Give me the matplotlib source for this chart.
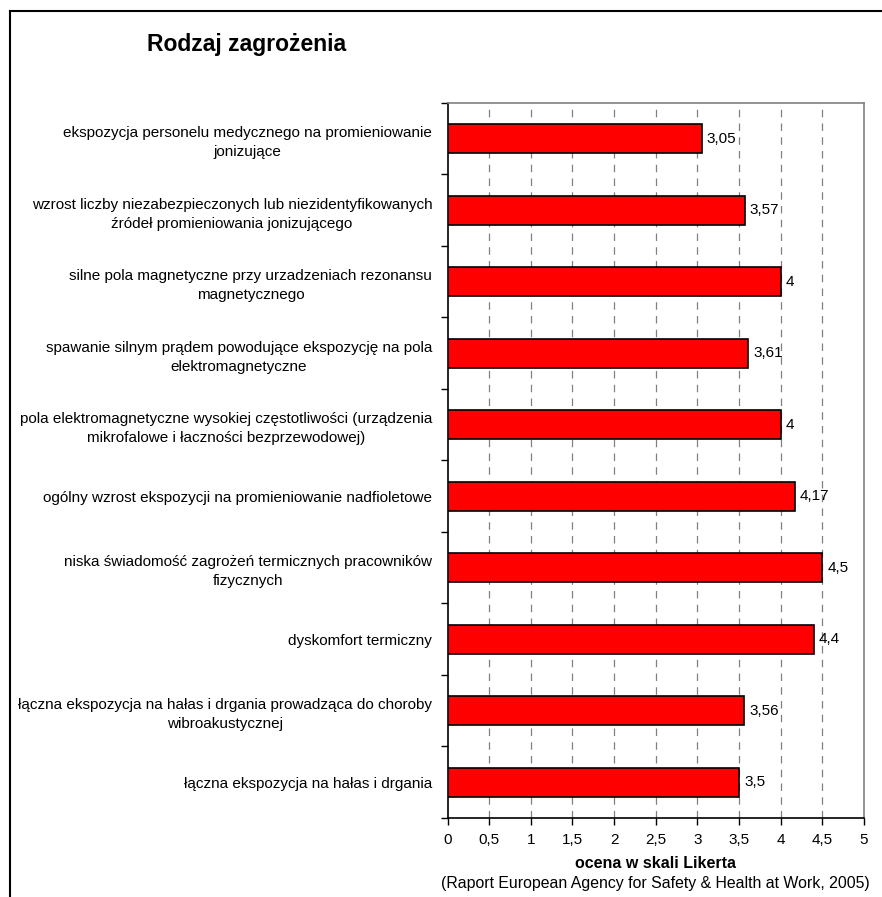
import numpy as np
import matplotlib.pyplot as plt
from matplotlib.lines import Line2D

plt.rcParams['font.family'] = ['Liberation Sans', 'DejaVu Sans']

# kategorie zagrożeń (od góry do dołu) i oceny w skali Likerta
categories = [
    "ekspozycja personelu medycznego na promieniowanie\njonizujące",
    "wzrost liczby niezabezpieczonych lub niezidentyfikowanych\nźródeł promieniowania jonizującego",
    "silne pola magnetyczne przy urzadzeniach rezonansu\nmagnetycznego",
    "spawanie silnym prądem powodujące ekspozycję na pola\nelektromagnetyczne",
    "pola elektromagnetyczne wysokiej częstotliwości (urządzenia\nmikrofalowe i łaczności bezprzewodowej)",
    "ogólny wzrost ekspozycji na promieniowanie nadfioletowe",
    "niska świadomość zagrożeń termicznych pracowników\nfizycznych",
    "dyskomfort termiczny",
    "łączna ekspozycja na hałas i drgania prowadząca do choroby\nwibroakustycznej",
    "łączna ekspozycja na hałas i drgania",
]
scores = [3.05, 3.57, 4, 3.61, 4, 4.17, 4.5, 4.4, 3.56, 3.5]
x_ticks = [0, 0.5, 1, 1.5, 2, 2.5, 3, 3.5, 4, 4.5, 5]


def pl_num(v):
    # przecinek dziesiętny
    return ('%g' % v).replace('.', ',')


fig = plt.figure(figsize=(8.82, 8.97), dpi=100)
ax = fig.add_axes([0.5074, 0.0881, 0.4722, 0.7971])

n = len(categories)
y = np.arange(n)
ax.barh(y, scores, height=0.41, color='#FF0000', edgecolor='black', linewidth=1.2, zorder=3)

for yi, v in zip(y, scores):
    ax.text(v + 0.06, yi, pl_num(v), va='center', ha='left', fontsize=11, zorder=4)

ax.set_xlim(0, 5)
ax.set_ylim(n - 0.5, -0.5)

# pionowe linie siatki co 0,5
for xv in x_ticks[1:-1]:
    ax.axvline(xv, color='#808080', linestyle=(0, (6, 5)), linewidth=0.9, zorder=1)

ax.set_xticks(x_ticks)
ax.set_xticklabels([pl_num(v) for v in x_ticks], fontsize=11)
ax.set_yticks(y)
ax.set_yticklabels(categories, fontsize=11, multialignment='center', linespacing=1.45)
ax.set_yticks(np.arange(n + 1) - 0.5, minor=True)
ax.tick_params(axis='y', which='major', length=0, pad=11)
ax.tick_params(axis='y', which='minor', length=5, width=1, direction='out')
ax.tick_params(axis='x', which='major', length=5, width=1, direction='out', pad=6)

for side in ['top', 'right']:
    ax.spines[side].set_color('#808080')
    ax.spines[side].set_linewidth(1.2)
for side in ['left', 'bottom']:
    ax.spines[side].set_color('black')
    ax.spines[side].set_linewidth(1.2)

ax.set_xlabel("ocena w skali Likerta", fontsize=11.5, fontweight='bold', labelpad=6)

fig.text(0.280, 0.950, "Rodzaj zagrożenia", fontsize=16.5, fontweight='bold', ha='center', va='center')
fig.text(0.986, 0.0156, "(Raport European Agency for Safety & Health at Work, 2005)",
         fontsize=11.4, ha='right', va='center')

# ramka wykresu (górna i lewa krawędź)
fig.add_artist(Line2D([10 / 882, 1.0], [1 - 11 / 897, 1 - 11 / 897], color='black', linewidth=1.5))
fig.add_artist(Line2D([10 / 882, 10 / 882], [0.0, 1 - 11 / 897], color='black', linewidth=1.5))

fig.savefig('out.png', dpi=100)
